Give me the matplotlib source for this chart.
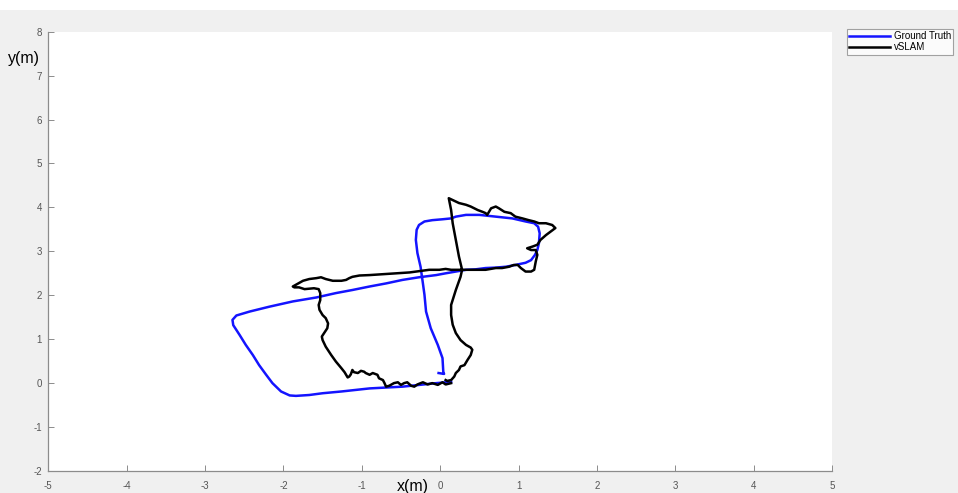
import numpy as np
import matplotlib
matplotlib.use("Agg")
import matplotlib.pyplot as plt
from matplotlib.patches import Rectangle

plt.rcParams["axes.unicode_minus"] = False

# ---- Ground truth trajectory (m)
gt_x = [-0.02, 0.05, 0.04, 0.03, -0.03, -0.12, -0.18, -0.20, -0.22, -0.25, -0.29, -0.31,
        -0.30, -0.27, -0.20, -0.10, 0.03, 0.14, 0.20, 0.33, 0.50, 0.71, 0.92, 1.09, 1.20,
        1.25, 1.27, 1.26, 1.24, 1.21, 1.16, 1.09, 0.96, 0.84, 0.71, 0.58, 0.45, 0.33, 0.20,
        0.07, -0.05, -0.27, -0.48, -0.69, -0.90, -1.12, -1.33, -1.58, -1.88, -2.18, -2.43,
        -2.60, -2.65, -2.64, -2.56, -2.48, -2.39, -2.31, -2.22, -2.14, -2.03, -1.92, -1.84,
        -1.67, -1.50, -1.26, -0.90, -0.48, -0.05, 0.14]
gt_y = [0.23, 0.21, 0.26, 0.57, 0.87, 1.25, 1.63, 2.01, 2.27, 2.65, 2.96, 3.26,
        3.49, 3.60, 3.68, 3.71, 3.73, 3.75, 3.79, 3.83, 3.83, 3.79, 3.75, 3.68, 3.64,
        3.56, 3.41, 3.18, 3.03, 2.92, 2.80, 2.74, 2.69, 2.65, 2.63, 2.62, 2.59, 2.58, 2.54,
        2.50, 2.46, 2.41, 2.35, 2.27, 2.20, 2.12, 2.05, 1.95, 1.86, 1.74, 1.63,
        1.54, 1.44, 1.32, 1.10, 0.87, 0.64, 0.41, 0.19, 0.00, -0.19, -0.28, -0.29,
        -0.27, -0.23, -0.19, -0.12, -0.08, 0.00, 0.03]

# ---- vSLAM trajectory (m)
vs_x = [0.14, 0.07, 0.03, -0.03, -0.10, -0.16, -0.22, -0.29, -0.33, -0.37, -0.42, -0.46,
        -0.50, -0.54, -0.59, -0.65, -0.69, -0.71, -0.73, -0.78, -0.80, -0.86, -0.90, -0.95,
        -0.97, -1.01, -1.05, -1.10, -1.12, -1.14, -1.16, -1.18, -1.20, -1.22, -1.26, -1.33,
        -1.39, -1.46, -1.50, -1.51, -1.48, -1.44, -1.43, -1.46, -1.50, -1.54, -1.55, -1.53,
        -1.53, -1.55, -1.61, -1.67, -1.73, -1.80, -1.86, -1.88, -1.82, -1.75, -1.67, -1.58,
        -1.52, -1.46, -1.37, -1.26, -1.20, -1.16, -1.12, -1.03, -0.90, -0.73, -0.56, -0.39,
        -0.27, -0.14, -0.01, 0.07, 0.14, 0.26, 0.33, 0.45, 0.58, 0.71, 0.79, 0.88, 0.94,
        0.99, 1.03, 1.09, 1.16, 1.20, 1.22, 1.24, 1.22, 1.16, 1.11, 1.18, 1.24, 1.28, 1.35,
        1.41, 1.47, 1.43, 1.35, 1.26, 1.20, 1.13, 1.05, 0.96, 0.90, 0.82, 0.75, 0.71, 0.65,
        0.60, 0.58, 0.54, 0.48, 0.39, 0.33, 0.24, 0.11, 0.14, 0.16, 0.20, 0.24, 0.28, 0.26,
        0.23, 0.20, 0.16, 0.14, 0.14, 0.16, 0.20, 0.26, 0.33, 0.39, 0.41, 0.39, 0.35, 0.31,
        0.26, 0.24, 0.20, 0.18, 0.14, 0.09, 0.07]
vs_y = [0.00, -0.03, 0.02, -0.04, 0.00, -0.03, 0.02, -0.03, -0.08, -0.06, 0.02, 0.00,
        -0.04, 0.02, 0.00, -0.06, -0.08, 0.00, 0.07, 0.11, 0.19, 0.23, 0.19, 0.23,
        0.26, 0.28, 0.23, 0.25, 0.30, 0.20, 0.15, 0.13, 0.19, 0.25, 0.34, 0.49,
        0.64, 0.83, 0.98, 1.06, 1.14, 1.25, 1.36, 1.48, 1.55, 1.67, 1.78, 1.89,
        2.05, 2.14, 2.16, 2.15, 2.14, 2.18, 2.18, 2.20, 2.26, 2.33, 2.37, 2.39,
        2.41, 2.37, 2.33, 2.33, 2.35, 2.39, 2.42, 2.45, 2.46, 2.48, 2.50, 2.52,
        2.55, 2.58, 2.58, 2.60, 2.58, 2.58, 2.58, 2.58, 2.58, 2.62, 2.62, 2.65, 2.69,
        2.69, 2.62, 2.54, 2.54, 2.58, 2.77, 2.92, 3.03, 3.03, 3.07, 3.11, 3.15, 3.26, 3.37,
        3.45, 3.53, 3.60, 3.64, 3.64, 3.68, 3.71, 3.75, 3.79, 3.87, 3.90, 3.98, 4.02, 3.98,
        3.83, 3.87, 3.90, 3.94, 4.02, 4.06, 4.10, 4.21, 3.94, 3.64, 3.26, 2.88, 2.58, 2.42,
        2.27, 2.12, 1.89, 1.78, 1.55, 1.33, 1.14, 0.98, 0.87, 0.81, 0.76, 0.64, 0.53, 0.41,
        0.38, 0.30, 0.23, 0.15, 0.07, 0.05, 0.07]

x_ticks = [-5, -4, -3, -2, -1, 0, 1, 2, 3, 4, 5]
y_ticks = [-2, -1, 0, 1, 2, 3, 4, 5, 6, 7, 8]

fig = plt.figure(figsize=(9.58, 4.93), dpi=100, facecolor="#f0f0f0")
# thin white strip on top of the screenshot
fig.patches.append(Rectangle((0, 1 - 10 / 493), 1, 10 / 493, transform=fig.transFigure,
                             facecolor="white", edgecolor="none", zorder=-1))

ax = fig.add_axes([48.3 / 958, 22 / 493, 783.7 / 958, 439.3 / 493])
ax.set_facecolor("white")

l1, = ax.plot(gt_x, gt_y, color="#1414ff", lw=1.8, label="Ground Truth")
l2, = ax.plot(vs_x, vs_y, color="black", lw=1.8, label="vSLAM")

ax.set_xlim(-5, 5)
ax.set_ylim(-2, 8)
ax.set_xticks(x_ticks)
ax.set_yticks(y_ticks)
for s in ["top", "right"]:
    ax.spines[s].set_visible(False)
for s in ["left", "bottom"]:
    ax.spines[s].set_color("#8c8c8c")
    ax.spines[s].set_linewidth(0.9)
ax.tick_params(direction="in", length=4, width=0.7, color="#8c8c8c",
               labelsize=7, labelcolor="#555555")
ax.tick_params(axis="y", pad=4.5)
ax.tick_params(axis="x", pad=7)
for lab in ax.get_xticklabels() + ax.get_yticklabels():
    lab.set_family("Liberation Sans")

fig.text(8 / 958, 1 - 58 / 493, "y(m)", fontsize=11.5, family="Liberation Sans",
         ha="left", va="center", color="black")
fig.text(397 / 958, 1 - 487 / 493, "x(m)", fontsize=11.5, family="Liberation Sans",
         ha="left", va="center", color="black")

leg = fig.legend(handles=[l1, l2], loc="upper left",
                 bbox_to_anchor=(847 / 958, 1 - 29 / 493),
                 frameon=True, fancybox=False,
                 handlelength=4.2, handletextpad=0.35, borderpad=0.25,
                 labelspacing=0.1, borderaxespad=0,
                 prop={"family": "Liberation Sans", "size": 7})
leg.get_frame().set_edgecolor("#8c8c8c")
leg.get_frame().set_linewidth(0.8)
leg.get_frame().set_facecolor("white")

fig.savefig("out.png", dpi=100, facecolor=fig.get_facecolor())
